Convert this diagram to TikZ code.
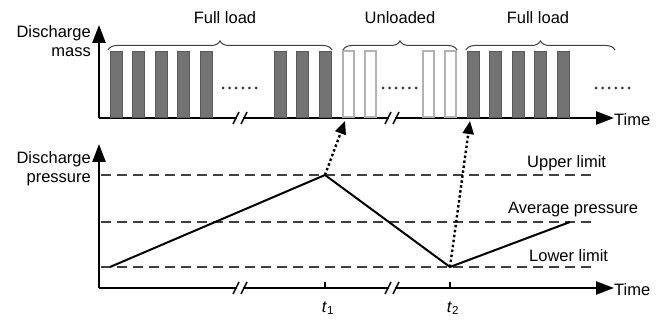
\documentclass[tikz,border=0pt]{standalone}
\usepackage{fontspec}
\setmainfont{Liberation Sans}
\usetikzlibrary{arrows.meta,decorations.pathreplacing}
\begin{document}
\begin{tikzpicture}[x=1pt,y=-1pt,
  axis/.style={line width=2.4pt,-{Triangle[length=18pt,width=13pt]}},
  fullbar/.style={fill=black!55,draw=black!65,line width=0.6pt},
  emptybar/.style={fill=white,draw=black!30,line width=1.2pt},
  limit/.style={draw=black!75,line width=1.6pt,dash pattern=on 10pt off 6pt},
  curve/.style={line width=2pt,line join=round},
  jump/.style={line width=2.4pt,dash pattern=on 2.5pt off 2.5pt,-{Triangle[length=13pt,width=11pt]}},
  brc/.style={decorate,decoration={brace,amplitude=9pt},line width=1pt,draw=black!75},
  lbl/.style={font=\fontsize{16.5}{19}\selectfont,inner sep=0pt},
  slash/.style={line width=1.4pt},
  gap/.style={draw=white,line width=3pt},
  dotmark/.style={fill=black!80,draw=none}]
\useasboundingbox (0,0) rectangle (669,320);

% ---------- top plot ----------
\coordinate (o1) at (99,118);
\draw[axis] (o1) -- (99,25) coordinate (ytop1);
\draw[axis] (o1) -- (614,118) coordinate (xend1);
\node[lbl,anchor=west] (time1) at (614,120) {Time};
\node[lbl,align=right,anchor=east] (dm) at (91,41) {Discharge\\mass};

% breaks top
\foreach \bx in {240,392}{
  \draw[gap] (\bx-3,118) -- (\bx+3,118);
  \draw[slash] (\bx-7,124) -- (\bx-1,112);
  \draw[slash] (\bx+1,124) -- (\bx+7,112);
}

% full load bars group 1
\foreach \x in {110,132.5,155,177.5,200,274,296.5,319}{
  \draw[fullbar] (\x,51) rectangle (\x+12,117);
}
% unloaded bars
\foreach \x in {343,365,423,445}{
  \draw[emptybar] (\x,51) rectangle (\x+11,117);
}
% full load bars group 2
\foreach \x in {467,489.5,512,534.5,557}{
  \draw[fullbar] (\x,51) rectangle (\x+12,117);
}
% ellipsis dots
\foreach \sx in {223,383,596}{
  \foreach \k in {0,...,5}{
    \fill[dotmark] (\sx+\k*6.6,88) circle (1.5);
  }
}

% braces
\draw[brc] (108,50) -- (332,50);
\node[lbl] (fl1) at (225,18) {Full load};
\draw[brc] (343,50) -- (457,50);
\node[lbl] (ul) at (400,18) {Unloaded};
\draw[brc] (466,50) -- (615,50);
\node[lbl] (fl2) at (538,18) {Full load};

% ---------- bottom plot ----------
\coordinate (o2) at (99,288);
\draw[axis] (o2) -- (99,144) coordinate (ytop2);
\draw[axis] (o2) -- (614,288) coordinate (xend2);
\node[lbl,anchor=west] (time2) at (614,290) {Time};
\node[lbl,align=right,anchor=east] (dp) at (91,169) {Discharge\\pressure};

\foreach \bx in {240,392}{
  \draw[gap] (\bx-3,288) -- (\bx+3,288);
  \draw[slash] (\bx-7,294) -- (\bx-1,282);
  \draw[slash] (\bx+1,294) -- (\bx+7,282);
}

% limit lines
\draw[limit] (101,175) -- (593,175);
\draw[limit] (101,222) -- (593,222);
\draw[limit] (101,267) -- (593,267);
\node[lbl,anchor=west] (upper) at (527,163) {Upper limit};
\node[lbl,anchor=west] (avg) at (508,210) {Average pressure};
\node[lbl,anchor=west] (lower) at (529,256) {Lower limit};

% pressure curve
\coordinate (start) at (110,267);
\coordinate (peak) at (325,175);
\coordinate (valley) at (450,267);
\coordinate (endp) at (570,222);
\draw[curve] (start) -- (peak) -- (valley) -- (endp);

% ticks and labels
\draw[line width=1.2pt] (325,288) -- (325,282);
\draw[line width=1.2pt] (450,288) -- (450,282);
\node[lbl] (t1) at (328,308) {\textit{t}\textsubscript{1}};
\node[lbl] (t2) at (453,308) {\textit{t}\textsubscript{2}};

% dotted arrows
\coordinate (h1) at (345,121);
\coordinate (h2) at (470,121);
\draw[jump] (peak) -- (h1);
\draw[jump] (valley) -- (h2);
\end{tikzpicture}
\end{document}
